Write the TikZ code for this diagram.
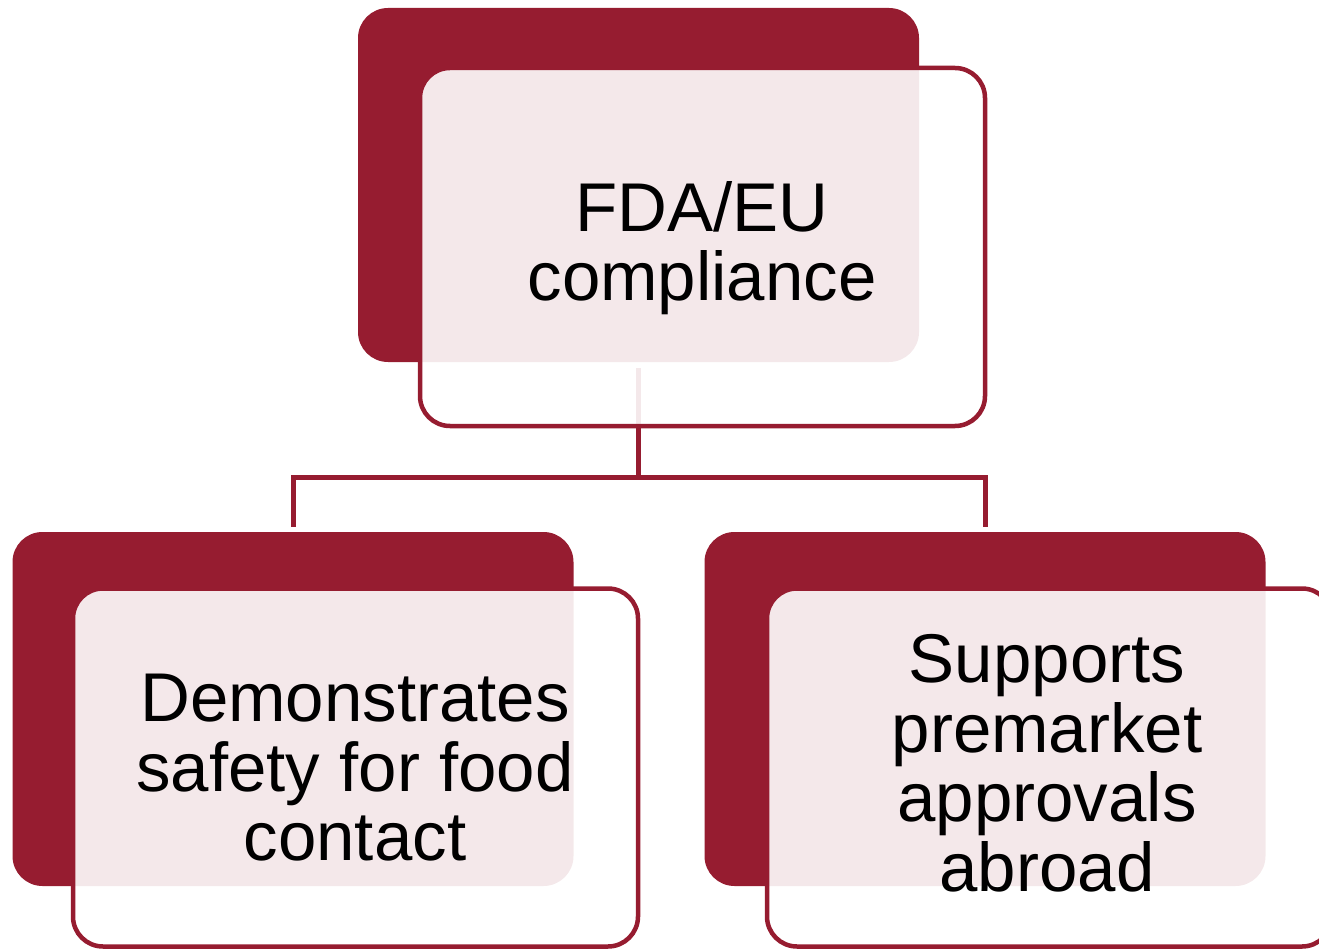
\documentclass[tikz,border=0pt]{standalone}
\usepackage{fontspec}
\setmainfont{Liberation Sans}
\definecolor{wine}{RGB}{150,28,48}
\pgfdeclarelayer{bg}
\pgfsetlayers{bg,main}
\begin{document}
\begin{tikzpicture}[x=1pt,y=-1pt,
  backbox/.style={fill=wine, draw=none, rounded corners=30pt, minimum width=561pt, minimum height=354pt, inner sep=0pt, outer sep=0pt},
  frontbox/.style={draw=wine, line width=4.5pt, fill=white, fill opacity=0.9, draw opacity=1, rounded corners=30pt, minimum width=565pt, minimum height=358pt, inner sep=0pt, outer sep=0pt},
  boxtext/.style={font=\fontsize{69}{69.5}\selectfont, align=center, inner sep=0pt, text=black},
  link/.style={draw=wine, line width=5pt}]
\useasboundingbox (0,0) rectangle (1319,949);
% back boxes
\node[backbox] (b1) at (638.5,185) {};
\node[backbox] (b2) at (293,709) {};
\node[backbox] (b3) at (985,709) {};
% front boxes
\node[frontbox] (f1) at (702.5,247) {};
\node[frontbox] (f2) at (355.5,767.5) {};
\node[frontbox] (f3) at (1049.5,767.5) {};
% texts
\node[boxtext] (t1) at (702,248) {FDA/EU\\compliance};
\node[boxtext] (t2) at (355,768) {Demonstrates\\safety for food\\contact};
\node[boxtext] (t3) at (1047,763) {Supports\\premarket\\approvals\\abroad};
% connectors
\coordinate (hub) at (638.5,477.5);
\begin{pgfonlayer}{bg}
\draw[link] ([yshift=-6pt]b1.south) -- (hub);
\draw[link] (hub) -| ([yshift=5pt]b2.north);
\draw[link] (hub) -| ([yshift=5pt]b3.north);
\end{pgfonlayer}
\end{tikzpicture}
\end{document}
